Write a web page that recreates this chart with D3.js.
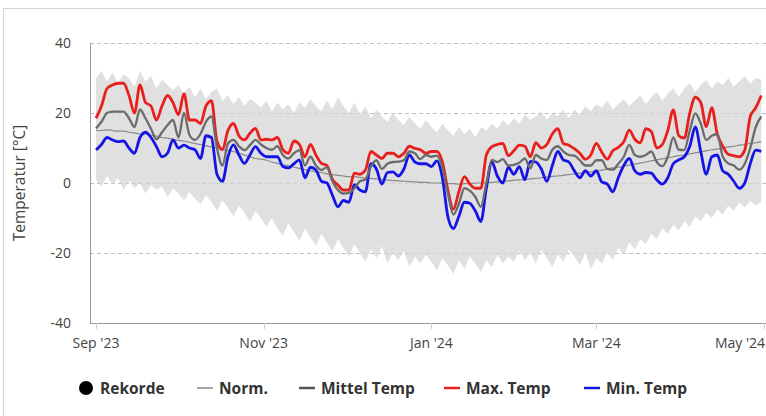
<!DOCTYPE html>
<html><head><meta charset="utf-8">
<script src="https://cdn.jsdelivr.net/npm/d3@7"></script>
<style>
html,body{margin:0;padding:0;background:#fff;}
svg{display:block;font-family:"Open Sans","DejaVu Sans",sans-serif;}
</style></head>
<body><svg id="c" width="766" height="416"></svg>
<script>
// ---- data (every 2 days from 1 Sep 2023) ----
const startDate = Date.UTC(2023, 8, 1);
const dayStep = 2;
const maxTemp = [18.5,22,27,28,28.5,28.5,25,20,28,23,22,18,22,25,23,19.5,25.5,18,18,17,22,23.5,12,9.5,15,17,13.5,12.3,14.2,15.6,12.3,12.5,12.3,13,9.5,8.5,12,11,7.5,11,8,5.6,5,1,-0.6,-2,-2,2.8,2.5,3.7,9,8,7,8.5,8.5,7.5,8.5,10.5,9.9,9.5,8.5,9,9,6,-2,-7.5,-2.5,1.8,-0.3,-1.5,-1.5,8,10.4,11,11.3,7.8,9.2,10.8,10.5,7.5,11.5,10,11,14,15.5,11.3,10.8,9.8,8.5,6.8,8,11.3,8.8,6.8,9.2,10.2,11.8,15.1,12.5,11.5,15.5,14.7,10,11,15,20.9,13.5,12.8,20,24.5,23,16.1,21.5,14,10.5,8.2,7.8,7.5,9.4,19,21.5,25];
const meanTemp = [15.6,17.5,20,20.4,20.4,20.4,18.5,16,21,18.5,15.5,12.5,14.5,16.5,18,13,20,13.7,12.3,14,17.5,19,10,5,11.3,12.3,10.5,9.4,10.8,12.3,11,10,9.5,10.5,8,7,8.5,9.4,5,7.5,5,3.7,4.5,0.5,-2,-3,-2.8,-1.5,0.5,1,4.7,6.5,4,5.5,6,6.1,6.5,9,8.5,6.8,8,7.5,7.8,4.5,-3,-9,-6,-1.5,-2.2,-4,-6.8,0,6.6,6,6.8,5,5.2,5.8,7,4.2,8,7,6.6,9.5,10.5,9,8,7.8,6.5,5,5,6.5,6.5,4,3.8,5.5,7.5,10.9,8,7.5,8,9,6,4.8,7.5,13,9.5,9.4,15,19.9,17,12.3,13.5,14,7.5,5.6,5,3.8,5.5,10,16,19];
const minTemp = [9.4,11,13,12.3,11.8,12,10,8.5,13,14.5,13,10.4,7.5,8.5,12.3,10,10.8,10,9.5,7,13.5,13,2.5,0.5,7.5,10.9,8,5.6,8,10.4,8.5,7.5,7.5,7.5,4.7,4.3,5.5,6.6,1.5,4.5,3.7,0.5,0,-3.5,-6.8,-5,-5.5,-0.5,-2,-2.5,5.5,4,-0.3,3,3.2,2,4,8,6,5.5,5.5,4.7,6.3,1.5,-9.6,-13,-9.5,-5.5,-5.8,-8,-11,-1.5,6,2,0,4.5,2.5,4.7,0.9,6.2,6,4,0.5,5,9,6.6,6,3.5,1.5,3.5,2,3.5,0.3,-0.3,-2.5,1.5,5,7,3.5,2.5,3,2.8,0.9,-0.3,1.5,5.5,6.6,7.5,10.5,16,9,2.5,7.5,8,3.5,2.5,0.5,-1.5,0,5.5,9.4,9];
const normTemp = [15,15,15.2,15,14.8,14.8,14.5,14.3,14,14,13.6,13.4,13,12.8,12.5,12.2,12,11.6,11.3,11,10.6,10.3,10,9.6,9.3,9,8.5,8,7.5,7,6.8,6.5,6,5.6,5.2,5,4.5,4.2,3.8,3.5,3.2,3,2.6,2.4,2.2,2,1.8,1.8,1.6,1.4,1.3,1.2,1,0.8,0.7,0.6,0.5,0.4,0.3,0.2,0.2,0,0,-0.1,-0.2,-0.2,-0.3,-0.2,-0.2,0,0,0.1,0.2,0.3,0.5,0.6,0.8,0.9,1,1.2,1.3,1.5,1.7,1.9,2,2.2,2.4,2.6,2.8,3,3.2,3.4,3.7,4,4.3,4.5,4.8,5.1,5.4,5.7,6,6.3,6.6,6.9,7.2,7.5,7.8,8,8.3,8.6,8.9,9.2,9.5,9.7,10,10.3,10.5,10.8,11,11.3,11.5,11.8];
const recordHigh = [30,32,29,31.5,28.5,31,30,27.5,32,29,30.5,27,29.5,28,26.5,
  28,25.5,27.5,24.5,27,24,26,27,23.5,25,22.5,24.5,22,24,23,21.5,
  23.5,20.5,23,21,22.5,20,23,21.5,24,22,20.5,23.5,21,24.5,22,
  20,23,19.5,22,18.5,21,19,17.5,20,18,16.5,19,17,15.5,18,
  16,14.5,17,15,13.5,16,14,15.5,13,16,15,17,15.5,18,16.5,18.5,
  17,19.5,18,19,20.5,18,20,19,21,18.5,21,19.5,22,20.5,22.5,
  21.5,23.5,21,22.5,24,22,23.5,25,22.5,24.5,26,23.5,25.5,27,24.5,
  27,28.5,26,28,29.5,27,29,28,30,27.5,29,30.5,28.5,30,29.5];
const recordLow = [1,-1,2,-0.5,1.5,-2,0.5,-1.5,0,-3,-0.5,-2,-1,-4,-1.5,
  -3,-5,-2.5,-4.5,-6,-3.5,-5.5,-8,-5,-7,-9.5,-6.5,-8.5,-11,-8,-10,
  -12.5,-10,-13,-15,-11.5,-14,-16.5,-13,-15.5,-18,-14.5,-17,-19.5,-16,-18.5,
  -21,-17.5,-20,-22.5,-19,-21.5,-18,-23,-20,-22,-19.5,-24,-21,-23,-20.5,
  -22.5,-25,-21.5,-23.5,-26,-22,-24.5,-21,-23,-25.5,-22,-24,-20.5,-23,-21,-22.5,
  -19.5,-22,-20,-23,-19,-21.5,-24,-20.5,-22.5,-19,-21,-23.5,-20,-24.5,-21.5,
  -23,-20,-22,-18.5,-20.5,-17,-19,-16,-17.5,-14.5,-16,-13,-14.5,-12,-13.5,
  -11,-12.5,-9.5,-11,-8.5,-10,-7.5,-9,-6.5,-8,-5.5,-7,-5,-6.5,-5.5];
const yTicks = [-40,-20,0,20,40];
const xTickDates = [[2023,8,1],[2023,10,1],[2024,0,1],[2024,2,1],[2024,4,1]];
const xTickLabels = ["Sep '23","Nov '23","Jan '24","Mar '24","May '24"];
const legendItems = ["Rekorde","Norm.","Mittel Temp","Max. Temp","Min. Temp"];
const yTitle = "Temperatur [°C]";

// ---- build ----
const DAY = 86400000;
const rows = maxTemp.map((v,i)=>({
  date:new Date(startDate + i*dayStep*DAY),
  max:v, mean:meanTemp[i], min:minTemp[i], norm:normTemp[i], hi:recordHigh[i], lo:recordLow[i]
}));

const svg = d3.select("#c");
const plotL = 90, plotR = 766, plotT = 43, plotB = 323;
const x = d3.scaleUtc().domain([new Date(Date.UTC(2023,8,1)), new Date(Date.UTC(2024,4,1))]).range([96, 764]);
const y = d3.scaleLinear().domain([-40,40]).range([plotB, plotT]);

// frame
svg.append("rect").attr("x",3.5).attr("y",8.5).attr("width",800).attr("height",450)
  .attr("fill","none").attr("stroke","#d4d4d4").attr("stroke-width",1);

// grid
svg.append("g").selectAll("line").data(yTicks.filter(t=>t>-40)).join("line")
  .attr("x1",plotL).attr("x2",plotR).attr("y1",d=>y(d)+0.5).attr("y2",d=>y(d)+0.5)
  .attr("stroke","#bbb").attr("stroke-dasharray","4,3").attr("stroke-width",1);

// record band
const area = d3.area().x(d=>x(d.date)).y0(d=>y(d.lo)).y1(d=>y(d.hi)).curve(d3.curveLinear);
svg.append("path").datum(rows).attr("d",area).attr("fill","#e0e0e0");

// grid again above band (faint)
svg.append("g").selectAll("line").data(yTicks.filter(t=>t>-40)).join("line")
  .attr("x1",plotL).attr("x2",plotR).attr("y1",d=>y(d)+0.5).attr("y2",d=>y(d)+0.5)
  .attr("stroke","#c4c4c4").attr("stroke-dasharray","4,3").attr("stroke-width",1).attr("opacity",0.6);

const mk = key => d3.line().x(d=>x(d.date)).y(d=>y(d[key])).curve(d3.curveMonotoneX);
svg.append("path").datum(rows).attr("d",mk("norm")).attr("fill","none").attr("stroke","#8a8a8a").attr("stroke-width",1.2);
svg.append("path").datum(rows).attr("d",mk("min")).attr("fill","none").attr("stroke","#1414e6").attr("stroke-width",2.8).attr("stroke-linejoin","round");
svg.append("path").datum(rows).attr("d",mk("max")).attr("fill","none").attr("stroke","#e8201c").attr("stroke-width",2.8).attr("stroke-linejoin","round");
svg.append("path").datum(rows).attr("d",mk("mean")).attr("fill","none").attr("stroke","#6b6b6b").attr("stroke-width",2.3).attr("stroke-linejoin","round");

// axes
svg.append("line").attr("x1",plotL+0.5).attr("x2",plotL+0.5).attr("y1",plotT).attr("y2",plotB).attr("stroke","#999");
svg.append("line").attr("x1",plotL).attr("x2",plotR).attr("y1",plotB+0.5).attr("y2",plotB+0.5).attr("stroke","#999");

const xTicks = xTickDates.map(a=>new Date(Date.UTC(a[0],a[1],a[2])));
const xa = svg.append("g");
xa.selectAll("line").data(xTicks).join("line")
  .attr("x1",d=>Math.round(x(d))+0.5).attr("x2",d=>Math.round(x(d))+0.5)
  .attr("y1",plotB).attr("y2",plotB+6).attr("stroke","#ccc");
xa.selectAll("text").data(xTicks).join("text")
  .attr("x",(d,i)=>i===xTicks.length-1 ? 765 : x(d))
  .attr("y",plotB+25)
  .attr("text-anchor",(d,i)=>i===xTicks.length-1 ? "end" : "middle")
  .attr("font-size",14).attr("fill","#444").text((d,i)=>xTickLabels[i]);

svg.append("g").selectAll("text").data(yTicks).join("text")
  .attr("x",71).attr("y",d=>y(d)+5).attr("text-anchor","end")
  .attr("font-size",14).attr("fill","#444").text(d=>d);

svg.append("text").attr("transform",`translate(25,${y(0)}) rotate(-90)`)
  .attr("text-anchor","middle").attr("font-size",15.5).attr("fill","#444").text(yTitle);

// legend
const lg = svg.append("g").attr("font-size",15.5).attr("font-weight","bold").attr("fill","#333");
const ly = 388;
lg.append("circle").attr("cx",86).attr("cy",ly).attr("r",7).attr("fill","#000");
lg.append("text").attr("x",100).attr("y",ly+5.5).text(legendItems[0]);
const lineItems = [
  {x0:197, col:"#8a8a8a", w:1.5, label:legendItems[1]},
  {x0:299, col:"#555", w:2.5, label:legendItems[2]},
  {x0:444, col:"#e8201c", w:2.5, label:legendItems[3]},
  {x0:584, col:"#1414e6", w:2.5, label:legendItems[4]}
];
lineItems.forEach(it=>{
  lg.append("line").attr("x1",it.x0).attr("x2",it.x0+16).attr("y1",ly).attr("y2",ly).attr("stroke",it.col).attr("stroke-width",it.w);
  lg.append("text").attr("x",it.x0+22).attr("y",ly+5.5).text(it.label);
});
</script></body></html>
